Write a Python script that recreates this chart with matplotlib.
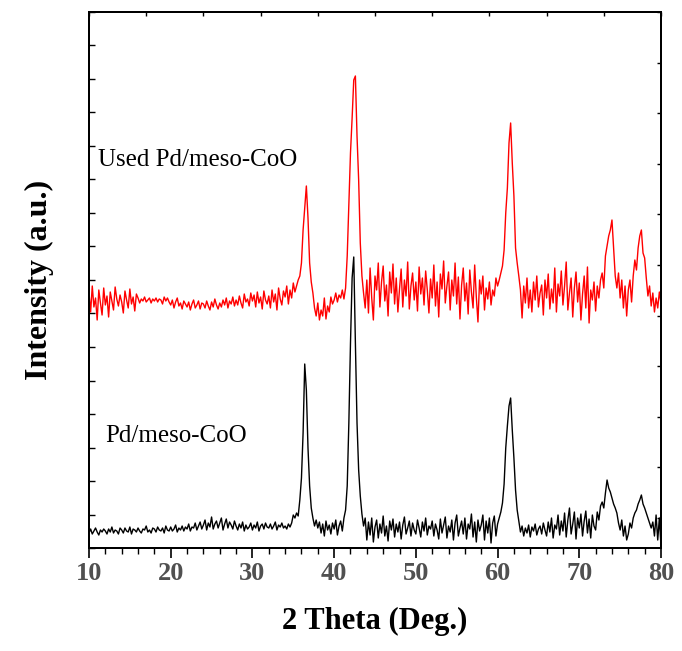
import numpy as np
import matplotlib
matplotlib.use('Agg')
import matplotlib.pyplot as plt
from matplotlib.ticker import MultipleLocator

plt.rcParams['font.family'] = ['Liberation Serif', 'DejaVu Serif']

# 2 theta grid, 0.2 deg step
two_theta = np.round(np.arange(10.0, 80.0001, 0.2), 1)

# Pd/meso-CoO (black), intensity in arbitrary units
fresh = [
    15, 19, 14, 17, 20, 16, 13, 18, 16, 19,
    17, 14, 19, 16, 21, 15, 18, 17, 14, 20,
    18, 15, 20, 17, 16, 21, 14, 19, 18, 16,
    20, 17, 15, 19, 18, 22, 16, 18, 15, 20,
    19, 16, 21, 18, 17, 20, 15, 22, 18, 17,
    21, 17, 19, 23, 16, 20, 18, 22, 17, 21,
    19, 24, 17, 21, 20, 25, 18, 22, 26, 19,
    23, 28, 18, 25, 21, 31, 19, 24, 27, 20,
    25, 30, 18, 24, 29, 20, 26, 23, 19, 27,
    22, 18, 24, 20, 26, 17, 23, 19, 21, 25,
    18, 23, 20, 26, 17, 22, 24, 19, 25, 21,
    20, 24, 19, 22, 26, 18, 23, 21, 25, 20,
    22, 19, 24, 21, 25, 33, 30, 35, 32, 48,
    70, 115, 184, 158, 100, 62, 40, 30, 22, 28,
    20, 26, 15, 24, 12, 27, 18, 23, 14, 25,
    19, 28, 13, 22, 27, 17, 30, 38, 62, 125,
    205, 270, 291, 205, 125, 78, 52, 34, 22, 30,
    8, 26, 13, 30, 6, 21, 28, 10, 24, 15,
    32, 12, 22, 7, 27, 18, 29, 11, 24, 16,
    26, 9, 23, 31, 14, 20, 27, 12, 25, 18,
    14, 28, 20, 11, 26, 17, 30, 13, 22, 19,
    27, 12, 24, 18, 9, 29, 15, 23, 31, 10,
    22, 16, 28, 8, 25, 33, 12, 20, 27, 14,
    30, 9, 24, 19, 34, 11, 26, 6, 28, 17,
    23, 33, 8, 27, 15, 30, 5, 25, 32, 12,
    24, 30, 36, 45, 64, 100, 122, 142, 150, 118,
    90, 58, 38, 27, 16, 22, 12, 20, 15, 23,
    11, 21, 17, 24, 13, 19, 22, 14, 25, 18,
    12, 26, 16, 30, 10, 23, 19, 33, 13, 27,
    17, 35, 11, 28, 40, 14, 24, 36, 9, 30,
    20, 34, 12, 27, 37, 15, 29, 10, 33, 22,
    18, 36, 28, 42, 46, 40, 55, 68, 60, 56,
    50, 44, 40, 35, 25, 18, 28, 12, 22, 8,
    14, 25, 20, 30, 35, 38, 44, 48, 53, 44,
    40, 35, 30, 25, 20, 26, 12, 33, 8, 30,
    2,
]

# Used Pd/meso-CoO (red), offset upward
used = [
    255, 236, 262, 241, 250, 228, 258, 245, 233, 260,
    243, 252, 231, 256, 247, 238, 261, 249, 242, 253,
    246, 235, 257, 248, 240, 259, 244, 251, 237, 254,
    250, 245, 249, 247, 251, 246, 248, 250, 245, 249,
    247, 250, 246, 249, 248, 244, 251, 247, 250, 246,
    243, 248, 240, 246, 250, 242, 245, 239, 247, 244,
    241, 246, 238, 244, 248, 240, 243, 247, 239, 245,
    244, 240, 247, 242, 238, 246, 241, 249, 243, 239,
    245, 241, 248, 243, 250, 240, 247, 244, 251, 242,
    248, 243, 252, 245, 240, 254, 246, 249, 242, 255,
    247, 253, 241, 256, 245, 251, 239, 257, 248, 244,
    252, 240, 258, 246, 254, 238, 260, 249, 243, 257,
    251, 262, 244, 258, 250, 265, 256, 262, 268, 272,
    285, 318, 340, 362, 330, 285, 266, 255, 240, 232,
    245, 228, 238, 232, 250, 229, 242, 236, 251, 244,
    248, 255, 246, 253, 250, 258, 249, 260, 292, 345,
    395, 430, 468, 472, 412, 368, 305, 272, 255, 240,
    268, 235, 280, 250, 228, 272, 258, 285, 241, 266,
    282, 247, 263, 232, 276, 255, 284, 244, 270, 236,
    259, 279, 241, 268, 252, 286, 239, 262, 275, 248,
    266, 237, 281, 254, 270, 243, 277, 258, 235, 269,
    250, 283, 242, 266, 231, 274, 259, 287, 245, 262,
    276, 238, 268, 252, 285, 244, 271, 229, 263, 280,
    247, 265, 234, 278, 256, 240, 283, 251, 226, 268,
    254, 272, 238, 260, 249, 266, 243, 258, 252, 270,
    262, 268, 275, 282, 298, 335, 360, 405, 425, 385,
    352, 300, 285, 272, 258, 230, 262, 245, 270, 240,
    258, 236, 266, 248, 272, 241, 255, 263, 233, 268,
    250, 274, 239, 259, 245, 280, 236, 264, 252, 277,
    243, 262, 286, 238, 255, 270, 231, 260, 276, 246,
    265, 228, 254, 272, 240, 281, 225, 258, 248, 266,
    237, 262, 250, 268, 275, 260, 292, 302, 312, 318,
    328, 300, 272, 260, 275, 250, 268, 240, 262, 232,
    258, 268, 246, 272, 288, 278, 300, 312, 318, 295,
    290, 270, 252, 262, 242, 255, 236, 250, 240, 256,
    245,
]

fig = plt.figure(figsize=(6.82, 6.51), dpi=100)
ax = fig.add_axes([0.1305, 0.1582, 0.8387, 0.8234])

ax.plot(two_theta, used, color='#ff0000', linewidth=1.0)
ax.plot(two_theta, fresh, color='black', linewidth=1.0)

ax.text(11.1, 388, 'Used Pd/meso-CoO', fontsize=18, va='center', ha='left')
ax.text(11.95, 112, 'Pd/meso-CoO', fontsize=18, va='center', ha='left')

ax.set_xlim(10, 80)
ax.set_ylim(0, 536)
ax.xaxis.set_major_locator(MultipleLocator(10))
ax.xaxis.set_minor_locator(MultipleLocator(2))
ax.set_yticks(np.arange(0, 537, 33.5))
ax.set_yticklabels([])
ax.tick_params(axis='x', which='major', direction='out', length=7, width=1.2,
               labelsize=19, labelcolor='#505050', pad=3)
ax.tick_params(axis='x', which='minor', direction='out', length=4, width=1.0)
ax.tick_params(axis='y', which='both', direction='in', length=4, width=1.0, left=True)
for lab in ax.get_xticklabels():
    lab.set_fontweight('bold')

# right and top tick marks (no labels)
axr = ax.twinx()
axr.set_ylim(0, 536)
axr.set_yticks([536 - 50.6 * k for k in range(11)])
axr.set_yticklabels([])
axr.tick_params(axis='y', direction='in', length=3, width=1.0)
axt = ax.twiny()
axt.set_xlim(10, 80)
axt.set_xticks(np.arange(10, 81, 7))
axt.set_xticklabels([])
axt.tick_params(axis='x', direction='in', length=3, width=1.0)

for a in (ax, axr, axt):
    for s in a.spines.values():
        s.set_linewidth(1.3)

ax.set_xlabel('2 Theta (Deg.)', fontsize=22, fontweight='bold', labelpad=16)
ax.set_ylabel('Intensity (a.u.)', fontsize=23, fontweight='bold', labelpad=22)

plt.savefig('out.png', dpi=100)
